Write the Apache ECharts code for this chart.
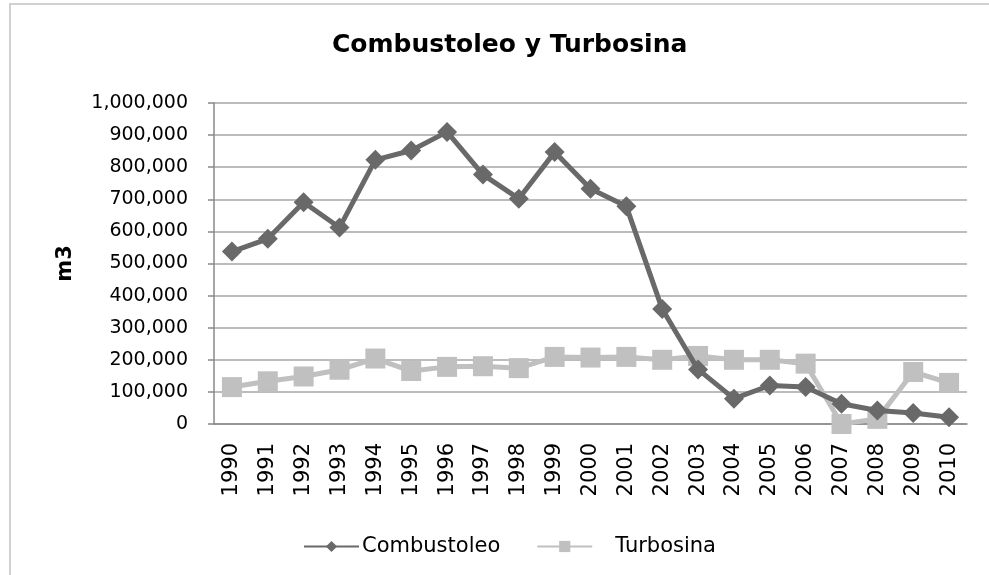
<!DOCTYPE html>
<html>
<head>
<meta charset="utf-8">
<script src="https://cdn.jsdelivr.net/npm/echarts@6/dist/echarts.min.js"></script>
<style>
  html, body { margin: 0; padding: 0; background: #fff; }
  #chart { width: 989px; height: 575px; }
</style>
</head>
<body>
<div id="chart"></div>
<script>
// --- Data ---
const years = ['1990', '1991', '1992', '1993', '1994', '1995', '1996', '1997', '1998', '1999', '2000',
    '2001', '2002', '2003', '2004', '2005', '2006', '2007', '2008', '2009', '2010'];
const combustoleo = [537000, 577000, 691000, 612000, 823000, 852000, 910000, 777000, 702000, 847000, 733000,
    678000, 358000, 170000, 79000, 120000, 115000, 63000, 42000, 34000, 21000];
const turbosina = [115000, 133000, 148000, 169000, 204000, 165000, 178000, 180000, 174000, 209000, 207000,
    209000, 200000, 212000, 200000, 200000, 188000, 0, 16000, 162000, 128000];

const font = 'DejaVu Sans, sans-serif';

// --- Render ---
const chart = echarts.init(document.getElementById('chart'));
chart.setOption({
    animation: false,
    textStyle: { fontFamily: font },
    graphic: [{
        type: 'rect',
        shape: { x: 10, y: 4, width: 1000, height: 600 },
        style: { fill: 'none', stroke: '#d0d0d0', lineWidth: 2 },
        silent: true
    }],
    title: {
        text: 'Combustoleo y Turbosina',
        left: 327,
        top: 28,
        textStyle: { fontFamily: font, fontSize: 25, fontWeight: 'bold', color: '#000' }
    },
    legend: {
        left: 298,
        top: 531,
        itemWidth: 55,
        itemHeight: 14,
        itemGap: 36,
        textStyle: { fontFamily: font, fontSize: 21, color: '#000', padding: [0, 0, 0, -2] },
        formatter: name => name === 'Turbosina' ? '   ' + name : name,
        data: ['Combustoleo', 'Turbosina']
    },
    grid: { left: 214, right: 22, top: 103, bottom: 151 },
    xAxis: {
        type: 'category',
        data: years,
        boundaryGap: true,
        axisLine: { lineStyle: { color: '#888', width: 1.5 } },
        axisTick: { length: 6, lineStyle: { color: '#888', width: 1.5 } },
        axisLabel: { rotate: 90, fontSize: 21, color: '#000', margin: 19, fontFamily: font }
    },
    yAxis: {
        type: 'value',
        min: 0,
        max: 1000000,
        interval: 100000,
        name: 'm3',
        nameLocation: 'middle',
        nameGap: 138,
        nameRotate: 90,
        nameTextStyle: { fontFamily: font, fontSize: 21, fontWeight: 'bold', color: '#000' },
        axisLine: { show: true, lineStyle: { color: '#888', width: 1.5 } },
        axisTick: { show: true, length: 6, inside: false, lineStyle: { color: '#888', width: 1.5 } },
        splitLine: { lineStyle: { color: '#a6a6a6', width: 1.5 } },
        axisLabel: {
            fontSize: 19, color: '#000', margin: 26, fontFamily: font,
            formatter: v => v.toLocaleString('en-US')
        }
    },
    series: [{
        name: 'Combustoleo',
        type: 'line',
        data: combustoleo,
        symbol: 'diamond',
        symbolSize: 20,
        lineStyle: { color: '#696969', width: 5 },
        itemStyle: { color: '#696969' },
        z: 3
    }, {
        name: 'Turbosina',
        type: 'line',
        data: turbosina,
        symbol: 'rect',
        symbolSize: 20,
        lineStyle: { color: '#c0c0c0', width: 5 },
        itemStyle: { color: '#c0c0c0' },
        z: 2
    }]
});
</script>
</body>
</html>
